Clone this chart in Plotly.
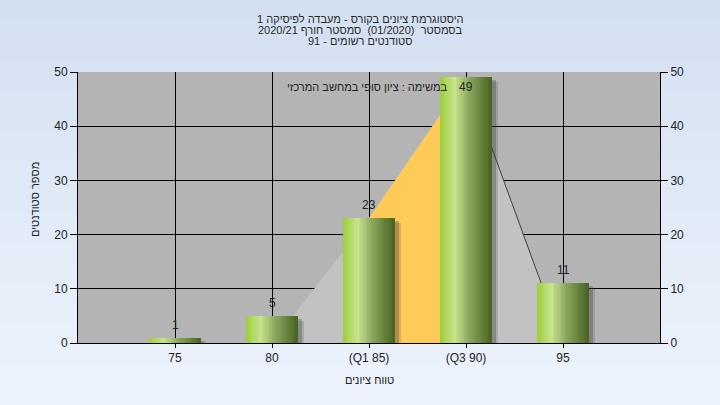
import plotly.graph_objects as go

# ---------------- data ----------------
grades = [75, 80, 85, 90, 95]
tick_labels = ["75", "80", "(Q1 85)", "(Q3 90)", "95"]
counts = [1, 5, 23, 49, 11]
q1_grade = 85
q3_grade = 90
envelope_x = [80, 85, 90, 95]
envelope_y = [0, 23, 49, 0]

title_lines = [
    "היסטוגרמת ציונים בקורס - מעבדה לפיסיקה 1",
    "בסמסטר  (01/2020)  סמסטר חורף 2020/21",
    "סטודנטים רשומים - 91",
]
subtitle = "במשימה : ציון סופי במחשב המרכזי"
x_title = "טווח ציונים"
y_title = "מספר סטודנטים"

# ---------------- layout constants ----------------
W, H = 720, 405
ML, MR, MT, MB = 78, 60, 72, 62
PW, PH = W - ML - MR, H - MT - MB
FONT = "Liberation Sans, Arial, sans-serif"
TXT = "#222222"
YMAX = 50
XR = [70, 100]

fig = go.Figure()

def lerp(c1, c2, t):
    return tuple(int(round(a + (b - a) * t)) for a, b in zip(c1, c2))

# background gradient bands (paper)
top_c, bot_c = (211, 224, 241), (237, 243, 252)
y_lo = -MB / PH
y_hi = 1 + MT / PH
x_lo = -ML / PW
x_hi = 1 + MR / PW
nb = 40
shapes = []
for i in range(nb):
    t = i / (nb - 1)
    c = lerp(top_c, bot_c, t)
    y1 = y_hi - (y_hi - y_lo) * i / nb
    y0 = y_hi - (y_hi - y_lo) * (i + 1) / nb - 0.002
    shapes.append(dict(type="rect", xref="paper", yref="paper", x0=x_lo, x1=x_hi,
                       y0=y0, y1=y1, fillcolor="rgb(%d,%d,%d)" % c,
                       line=dict(width=0), layer="below"))
shapes.append(dict(type="rect", xref="paper", yref="paper", x0=0, x1=1, y0=0, y1=1,
                   fillcolor="#b4b4b4", line=dict(width=0), layer="below"))

# envelope polygons drawn between gridlines and bars
def path(xs, ys, close=True):
    p = "M " + " L ".join("%s,%s" % (x, y) for x, y in zip(xs, ys))
    return p + (" Z" if close else "")

shapes.append(dict(type="path", xref="x", yref="y", layer="between",
                   path=path(envelope_x, envelope_y), fillcolor="#c2c2c2",
                   line=dict(width=0)))
i1 = envelope_x.index(q1_grade)
i3 = envelope_x.index(q3_grade)
shapes.append(dict(type="path", xref="x", yref="y", layer="between",
                   path=path([q1_grade, q1_grade, q3_grade, q3_grade],
                             [0, envelope_y[i1], envelope_y[i3], 0]),
                   fillcolor="#ffcb58", line=dict(width=0)))
shapes.append(dict(type="path", xref="x", yref="y", layer="between",
                   path=path(envelope_x[i3:], envelope_y[i3:], close=False),
                   line=dict(color="#404040", width=1)))

# bar shadows (soft: two layers)
unit_px = PW / (XR[1] - XR[0])
ypx = PH / YMAX
bar_w = 2.65
for dx, dy, a in [(6, 5, 0.18), (4, 3, 0.30)]:
    fig.add_trace(go.Bar(x=grades, y=[max(c - dy / ypx, 0) for c in counts],
                         width=bar_w, offset=-bar_w / 2 + dx / unit_px,
                         marker=dict(color="rgba(60,60,60,%s)" % a, line=dict(width=0)),
                         hoverinfo="skip", showlegend=False))

# gradient bars built from slices
stops = [(0.0, (158, 206, 60)), (0.28, (200, 228, 142)), (0.55, (140, 168, 96)),
         (1.0, (72, 98, 32))]

def grad(t):
    for (t0, c0), (t1, c1) in zip(stops[:-1], stops[1:]):
        if t0 <= t <= t1:
            return lerp(c0, c1, (t - t0) / (t1 - t0))
    return stops[-1][1]

ns = 30
sw = bar_w / ns
for i in range(ns):
    c = grad((i + 0.5) / ns)
    fig.add_trace(go.Bar(x=grades, y=counts, width=sw * (1.3 if i < ns - 1 else 1.0),
                         offset=-bar_w / 2 + i * sw,
                         marker=dict(color="rgb(%d,%d,%d)" % c, line=dict(width=0)),
                         hoverinfo="skip", showlegend=False))

# dummy trace for right axis
fig.add_trace(go.Scatter(x=[grades[0]], y=[0], yaxis="y2", mode="markers",
                         marker=dict(opacity=0), hoverinfo="skip", showlegend=False))

annotations = []
for g, c in zip(grades, counts):
    ys = -10 if c > 0.9 * YMAX else 13
    annotations.append(dict(x=g, y=c, xref="x", yref="y", text=str(c), showarrow=False,
                             yanchor="middle", yshift=ys,
                             font=dict(family=FONT, size=12, color=TXT)))

title_y_px = [19, 30, 41]
for line, ypx_t in zip(title_lines, title_y_px):
    annotations.append(dict(x=(360 - ML) / PW, y=(H - MB - ypx_t) / PH, xref="paper", yref="paper",
                             text=line, showarrow=False, xanchor="center", yanchor="middle",
                             font=dict(family=FONT, size=11, color="#2a2a2a")))
annotations.append(dict(x=(449 - ML) / PW, y=(H - MB - 87) / PH, xref="paper", yref="paper",
                         text=subtitle, showarrow=False, xanchor="right", yanchor="middle",
                         font=dict(family=FONT, size=11, color=TXT)))
annotations.append(dict(x=(369 - ML) / PW, y=(H - MB - 380) / PH, xref="paper", yref="paper",
                         text=x_title, showarrow=False, xanchor="center", yanchor="middle",
                         font=dict(family=FONT, size=11, color=TXT)))
annotations.append(dict(x=(35 - ML) / PW, y=(H - MB - 200) / PH, xref="paper", yref="paper",
                         text=y_title, showarrow=False, textangle=-90, xanchor="center",
                         yanchor="middle", font=dict(family=FONT, size=11, color=TXT)))

axis_common = dict(range=[0, YMAX], dtick=10, tick0=0, ticks="outside", ticklen=7,
                   tickcolor="black", showline=True, linecolor="black", linewidth=1,
                   tickfont=dict(family=FONT, size=12, color=TXT), zeroline=False)

fig.update_layout(
    width=W, height=H,
    margin=dict(l=ML, r=MR, t=MT, b=MB, pad=0),
    paper_bgcolor="#e2ebf7", plot_bgcolor="rgba(0,0,0,0)",
    barmode="overlay", bargap=0,
    showlegend=False,
    shapes=shapes,
    annotations=annotations,
    xaxis=dict(range=XR, tickmode="array", tickvals=grades, ticktext=tick_labels,
               ticks="outside", ticklen=4, tickcolor="black",
               showgrid=True, gridcolor="black", gridwidth=1,
               showline=True, linecolor="black", linewidth=1, zeroline=False,
               tickfont=dict(family=FONT, size=12, color=TXT)),
    yaxis=dict(showgrid=True, gridcolor="black", gridwidth=1, **axis_common),
    yaxis2=dict(overlaying="y", side="right", showgrid=False, **axis_common),
)

fig.write_html("out.html", config={"displayModeBar": False},
               post_script="document.body.style.margin='0';")
